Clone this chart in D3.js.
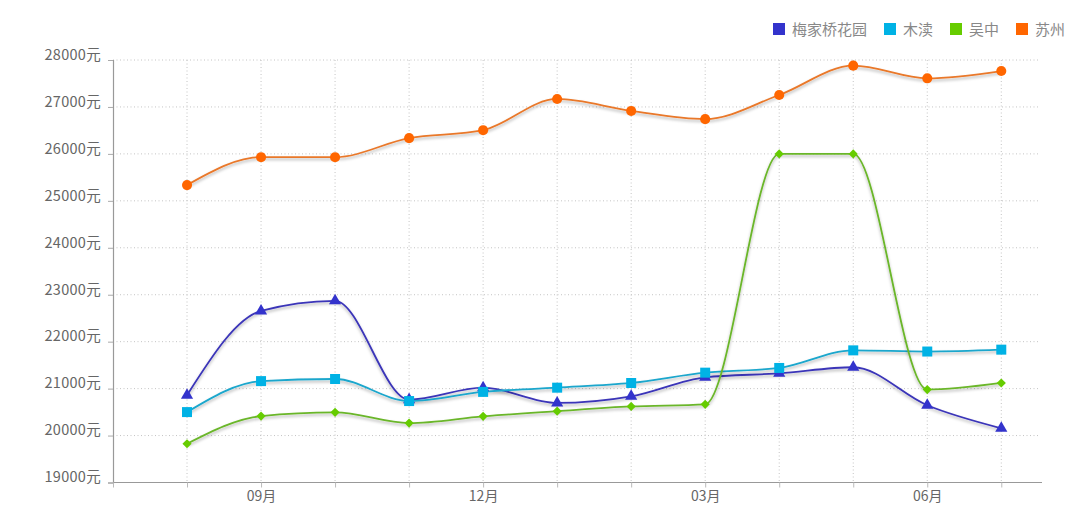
<!DOCTYPE html>
<html><head><meta charset="utf-8">
<script src="https://cdn.jsdelivr.net/npm/d3@7"></script>
<style>
html,body{margin:0;padding:0;background:#fff;}
svg{display:block;font-family:"Microsoft YaHei","Noto Sans CJK SC","Noto Sans",sans-serif;}
</style></head>
<body>
<svg id="chart" width="1069" height="511"></svg>
<script>
const categories = ["08月","09月","10月","11月","12月","01月","02月","03月","04月","05月","06月","07月"];
const shownLabels = ["09月","12月","03月","06月"];
const seriesNames = ["梅家桥花园","木渎","吴中","苏州"];
const seriesColors = ["#3333cc","#00b2e5","#66cc00","#ff6600"];
const lineColors = ["#3b35b8","#1aa6cc","#6bb62a","#e9782a"];
const markerTypes = ["triangle","square","diamond","circle"];
const meijia = [20860,22655,22870,20765,21020,20695,20835,21240,21325,21455,20645,20155];
const mudu   = [20500,21160,21205,20735,20930,21020,21120,21340,21440,21815,21790,21830];
const wuzhong= [19825,20415,20495,20265,20410,20520,20620,20665,26000,26000,20980,21120];
const suzhou = [25335,25930,25930,26335,26505,27170,26915,26740,27255,27880,27610,27765];
const yTicks = [19000,20000,21000,22000,23000,24000,25000,26000,27000,28000];
const seriesData = [meijia, mudu, wuzhong, suzhou];

const svg = d3.select("#chart");
const x = d3.scaleLinear().domain([-1, 11.55]).range([113, 1042]);
const y = d3.scaleLinear().domain([19000, 28000]).range([482.5, 60]);

const defs = svg.append("defs");
const f = defs.append("filter").attr("id","shadow").attr("x","-5%").attr("y","-20%").attr("width","110%").attr("height","140%");
f.append("feDropShadow").attr("dx",0).attr("dy",2).attr("stdDeviation",1.6).attr("flood-color","#000").attr("flood-opacity",0.3);

// horizontal grid
svg.append("g").selectAll("line").data(yTicks.slice(1)).join("line")
  .attr("x1", x(-1)).attr("x2", 1039).attr("y1", d=>y(d)).attr("y2", d=>y(d))
  .attr("stroke","#c4c4c4").attr("stroke-dasharray","1,2.5").attr("stroke-width",1);
// vertical grid
svg.append("g").selectAll("line").data(d3.range(categories.length)).join("line")
  .attr("x1", d=>x(d)).attr("x2", d=>x(d)).attr("y1", y(28000)).attr("y2", y(19000))
  .attr("stroke","#c4c4c4").attr("stroke-dasharray","1,2.5").attr("stroke-width",1);

// y axis
const yAxis = d3.axisLeft(y).tickValues(yTicks).tickSize(5).tickPadding(7).tickFormat(d=>d+"元");
const gy = svg.append("g").attr("transform",`translate(${x(-1)},0)`).call(yAxis);
gy.select(".domain").attr("stroke","#999").attr("stroke-width",1.2);
gy.selectAll(".tick line").attr("stroke","#aaa");
gy.selectAll(".tick text").attr("fill","#666").attr("font-size",14.5).attr("dy","-0.05em")
  .attr("letter-spacing","0.3px")
  .attr("font-family",'"Microsoft YaHei","Noto Sans CJK SC",sans-serif');

// x axis
const xAxis = d3.axisBottom(x).tickValues(d3.range(-1, categories.length)).tickSize(5).tickPadding(4)
  .tickFormat(d => (d>=0 && shownLabels.includes(categories[d])) ? categories[d] : "");
const gx = svg.append("g").attr("transform",`translate(0,${y(19000)})`).call(xAxis);
gx.select(".domain").attr("stroke","#999").attr("stroke-width",1.2).attr("d",`M${x(-1)},0H${x(11.55)}`);
gx.selectAll(".tick line").attr("stroke","#bbb");
gx.selectAll(".tick text").attr("fill","#666").attr("font-size",14)
  .attr("font-family",'"Microsoft YaHei","Noto Sans CJK SC",sans-serif');

// lines
const line = d3.line().x((d,i)=>x(i)).y(d=>y(d)).curve(d3.curveMonotoneX);
seriesData.forEach((data, si) => {
  svg.append("path").datum(data).attr("d", line).attr("fill","none")
    .attr("stroke", lineColors[si]).attr("stroke-width",1.8).attr("filter","url(#shadow)");
});
// markers
const symMap = {triangle:d3.symbolTriangle, square:d3.symbolSquare, diamond:d3.symbolSquare, circle:d3.symbolCircle};
const symSize = {triangle:64, square:100, diamond:42, circle:80};
seriesData.forEach((data, si) => {
  const t = markerTypes[si];
  svg.append("g").selectAll("path").data(data).join("path")
    .attr("transform",(d,i)=>`translate(${x(i)},${y(d)})` + (t==="diamond" ? " rotate(45)" : ""))
    .attr("d", d3.symbol().type(symMap[t]).size(symSize[t]))
    .attr("fill", seriesColors[si]);
});

// legend
const legendX = [773, 884, 950, 1016];
const lg = svg.append("g");
seriesNames.forEach((n, i) => {
  lg.append("rect").attr("x", legendX[i]).attr("y", 23).attr("width",12).attr("height",12).attr("fill", seriesColors[i]);
  lg.append("text").attr("x", legendX[i]+19).attr("y", 34.5).text(n)
    .attr("fill","#888").attr("font-size",15);
});
</script>
</body></html>
